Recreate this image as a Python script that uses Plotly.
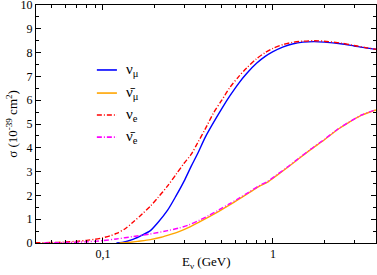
import plotly.graph_objects as go

# ---- data ----
e_numu = [0.12, 0.13, 0.15, 0.17, 0.19, 0.21, 0.24, 0.27, 0.30, 0.33, 0.36, 0.40, 0.45, 0.50,
          0.56, 0.63, 0.70, 0.80, 0.90, 1.0, 1.15, 1.3, 1.5, 1.75, 2.0, 2.5, 3.0, 3.5, 4.03]
s_numu = [0.0, 0.02, 0.15, 0.33, 0.52, 0.85, 1.38, 2.0, 2.6, 3.22, 3.75, 4.45, 5.1, 5.65,
          6.2, 6.72, 7.12, 7.55, 7.84, 8.04, 8.24, 8.36, 8.44, 8.46, 8.44, 8.37, 8.28, 8.2, 8.14]

e_numubar = [0.125, 0.14, 0.16, 0.19, 0.22, 0.25, 0.28, 0.32, 0.37, 0.42, 0.48, 0.55, 0.63,
             0.72, 0.82, 0.93, 1.05, 1.2, 1.4, 1.65, 2.0, 2.4, 2.8, 3.3, 4.03]
s_numubar = [0.0, 0.02, 0.07, 0.14, 0.24, 0.36, 0.48, 0.66, 0.89, 1.1, 1.33, 1.58, 1.84,
             2.1, 2.36, 2.56, 2.83, 3.14, 3.51, 3.9, 4.33, 4.77, 5.07, 5.36, 5.59]

e_nue = [0.04, 0.05, 0.06, 0.07, 0.08, 0.09, 0.10, 0.11, 0.12, 0.135, 0.15, 0.17, 0.19, 0.21,
         0.24, 0.27, 0.30, 0.33, 0.36, 0.40, 0.45, 0.50, 0.56, 0.63, 0.70, 0.80, 0.90, 1.0,
         1.15, 1.3, 1.5, 1.75, 2.0, 2.5, 3.0, 3.5, 4.03]
s_nue = [0.01, 0.02, 0.04, 0.07, 0.11, 0.16, 0.22, 0.30, 0.40, 0.6, 0.87, 1.22, 1.55, 1.9,
         2.4, 2.9, 3.35, 3.72, 4.2, 4.8, 5.5, 6.0, 6.55, 7.0, 7.35, 7.74, 8.0, 8.18,
         8.34, 8.43, 8.48, 8.5, 8.48, 8.4, 8.3, 8.21, 8.14]

e_nuebar = [0.045, 0.06, 0.08, 0.1, 0.12, 0.15, 0.19, 0.24, 0.28, 0.32, 0.37, 0.42, 0.48,
            0.55, 0.63, 0.72, 0.82, 0.93, 1.05, 1.2, 1.4, 1.65, 2.0, 2.4, 2.8, 3.3, 4.03]
s_nuebar = [0.0, 0.02, 0.05, 0.1, 0.17, 0.27, 0.38, 0.52, 0.63, 0.76, 0.96, 1.16, 1.39,
            1.63, 1.88, 2.13, 2.39, 2.59, 2.86, 3.16, 3.53, 3.92, 4.35, 4.78, 5.08, 5.37, 5.6]

x_tickvals = [0.1, 1]
x_ticktext = ["0,1", "1"]
x_minor = [0.05, 0.06, 0.07, 0.08, 0.09, 0.2, 0.3, 0.4, 0.5, 0.6, 0.7, 0.8, 0.9, 2, 3, 4]
y_tickvals = list(range(0, 11))

labels = ["ν<sub>μ</sub>", "ν̄<sub>μ</sub>", "ν<sub>e</sub>", "ν̄<sub>e</sub>"]
colors = ["#0000ff", "#ffa500", "#ff0000", "#ff00ff"]
dashes = ["solid", "solid", "5px,2px,1px,2px", "5px,2px,1px,2px"]

series = [(e_numu, s_numu), (e_numubar, s_numubar), (e_nue, s_nue), (e_nuebar, s_nuebar)]

FONT = "Times New Roman, Liberation Serif, serif"
fig = go.Figure()
for (ex, sy), lab, c, d in zip(series, labels, colors, dashes):
    fig.add_trace(go.Scatter(x=ex, y=sy, mode="lines", name=lab,
                             line=dict(color=c, width=1.4, dash=d, shape="spline", smoothing=0.8),
                             showlegend=False, hoverinfo="skip"))

# manual legend
rows = [0.727, 0.630, 0.538, 0.445]
for lab, c, d, yy in zip(labels, colors, dashes, rows):
    fig.add_shape(type="line", xref="paper", yref="paper", x0=0.179, x1=0.238, y0=yy, y1=yy,
                  line=dict(color=c, width=1.6, dash=d))
    fig.add_annotation(xref="paper", yref="paper", x=0.258, y=yy, text=lab, showarrow=False,
                       xanchor="left", yanchor="middle", font=dict(family=FONT, size=15, color="black"))

# axis titles
fig.add_annotation(xref="paper", yref="paper", x=0.5, y=-0.084, text="E<sub>ν</sub> (GeV)",
                   showarrow=False, xanchor="center", yanchor="middle",
                   font=dict(family=FONT, size=13, color="black"))
fig.add_annotation(xref="paper", yref="paper", x=-0.071, y=0.5, text="σ (10<sup>-39</sup> cm<sup>2</sup>)",
                   showarrow=False, xanchor="center", yanchor="middle", textangle=-90,
                   font=dict(family=FONT, size=13, color="black"))

axis_common = dict(showline=True, linecolor="black", linewidth=1, mirror="ticks",
                   ticks="inside", ticklen=5, tickcolor="black", showgrid=False, zeroline=False,
                   automargin=False, ticklabeloverflow="allow",
                   tickfont=dict(family=FONT, size=12, color="black"))

fig.update_xaxes(type="log", range=[-1.394, 0.606], tickvals=x_tickvals, ticktext=x_ticktext,
                 minor=dict(tickvals=x_minor, ticks="inside", ticklen=3, tickcolor="black", showgrid=False),
                 **axis_common)
fig.update_yaxes(range=[0, 10], tickvals=y_tickvals,
                 minor=dict(dtick=0.5, ticks="inside", ticklen=3, tickcolor="black", showgrid=False),
                 **axis_common)

fig.update_layout(width=377, height=275, margin=dict(l=36, r=1, t=5, b=32, autoexpand=False),
                  plot_bgcolor="white", paper_bgcolor="white", showlegend=False,
                  font=dict(family=FONT))
fig.write_html("out.html", config={"displayModeBar": False},
               post_script="document.body.style.margin='0';document.body.style.overflow='hidden';")
